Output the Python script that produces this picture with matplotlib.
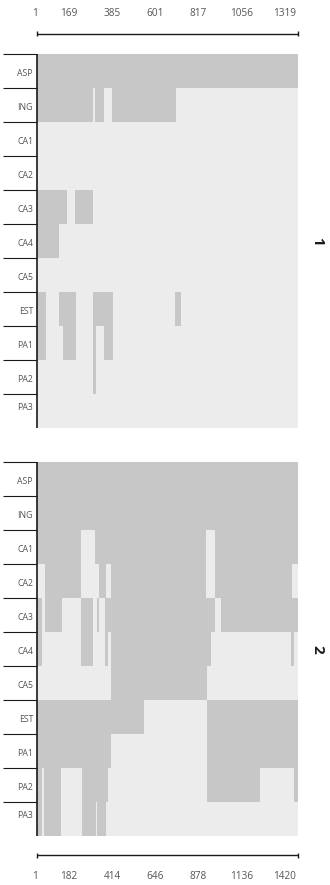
import matplotlib
matplotlib.use('Agg')
import matplotlib.pyplot as plt
from matplotlib.lines import Line2D

W, H, DPI = 330, 885, 100
GRAY = '#c7c7c7'
LIGHT = '#ececec'
INK = '#1a1a1a'
TXT = '#555555'

ROWS = ['ASP', 'ING', 'CA1', 'CA2', 'CA3', 'CA4', 'CA5', 'EST', 'PA1', 'PA2', 'PA3']

# panel 1
P1_LEN = 1319
P1_TICKS = ['1', '169', '385', '601', '817', '1056', '1319']
P1_SEGMENTS = [
    [(1, 1319)],                                          # ASP
    [(1, 286), (296, 341), (381, 704)],                   # ING
    [],                                                   # CA1
    [],                                                   # CA2
    [(1, 155), (195, 286)],                               # CA3
    [(1, 114)],                                           # CA4
    [],                                                   # CA5
    [(1, 49), (114, 200), (286, 387), (699, 729)],        # EST
    [(1, 49), (135, 200), (286, 301), (341, 387)],        # PA1
    [(286, 301)],                                         # PA2
    [],                                                   # PA3
]

# panel 2
P2_LEN = 1420
P2_TICKS = ['1', '182', '414', '646', '878', '1136', '1420']
P2_SEGMENTS = [
    [(1, 1420)],                                                          # ASP
    [(1, 1420)],                                                          # ING
    [(1, 242), (318, 921), (970, 1420)],                                  # CA1
    [(47, 242), (340, 378), (405, 921), (970, 1387)],                     # CA2
    [(1, 31), (47, 139), (242, 308), (329, 340), (373, 970), (1002, 1420)],  # CA3
    [(1, 31), (242, 308), (373, 389), (405, 948), (1382, 1398)],          # CA4
    [(405, 926)],                                                         # CA5
    [(1, 584), (926, 1420)],                                              # EST
    [(1, 405), (926, 1420)],                                              # PA1
    [(1, 31), (42, 134), (248, 389), (926, 1214), (1398, 1420)],          # PA2
    [(1, 31), (39, 134), (248, 324), (329, 378)],                         # PA3
]

plt.rcParams['font.family'] = ['Open Sans', 'DejaVu Sans']

X0, X1 = 36.5, 298.0
ROW_H = 34.0


def fx(x):
    return x / W


def fy(y):
    return 1 - y / H


def line(fig, xs, ys, lw=0.8, color=INK):
    fig.add_artist(Line2D([fx(x) for x in xs], [fy(y) for y in ys],
                          lw=lw, color=color, solid_capstyle='butt'))


def scale_bar(fig, y_line, y_text, ticks):
    line(fig, [X0, X1 - 0.5], [y_line, y_line], lw=1.0)
    for x in (X0, X1 - 0.5):
        line(fig, [x, x], [y_line - 2.5, y_line + 2.5], lw=1.0)
    # labels spread across the bar, first flush with the left end
    xs = [X0 - 1.5] + [69 + k * 43.2 for k in range(len(ticks) - 1)]
    for x, t in zip(xs, ticks):
        fig.text(fx(x), fy(y_text), t, ha='center', va='center',
                 fontsize=7.2, color=TXT)


def panel(fig, top, length, segments, name):
    n = len(ROWS)
    bottom = top + n * ROW_H
    ax = fig.add_axes([fx(X0), fy(bottom), fx(X1) - fx(X0), fy(top) - fy(bottom)])
    ax.set_facecolor(LIGHT)
    ax.set_xlim(1, length)
    ax.set_ylim(n, 0)
    for i, segs in enumerate(segments):
        if segs:
            ax.broken_barh([(a, b - a) for a, b in segs], (i, 1),
                           facecolors=GRAY, edgecolor='none')
    for s in ax.spines.values():
        s.set_visible(False)
    ax.set_xticks([])
    ax.set_yticks([])

    # row label column
    for i, lab in enumerate(ROWS):
        y = top + i * ROW_H
        line(fig, [3, X0], [y, y], lw=0.8)
        if i == n - 1:
            yc = y + 13.0
        else:
            yc = y + ROW_H / 2 + 2.5
        fig.text(fx(33), fy(yc), lab, ha='right', va='center',
                 fontsize=6.3, color=TXT)
    line(fig, [X0, X0], [top, bottom], lw=1.2)

    fig.text(fx(317), fy((top + bottom) / 2), name, rotation=-90,
             ha='center', va='center', fontsize=11, fontweight='bold',
             color=INK)


fig = plt.figure(figsize=(W / DPI, H / DPI), dpi=DPI)
fig.patch.set_facecolor('white')

scale_bar(fig, 33.7, 13.7, P1_TICKS)
panel(fig, 54.0, P1_LEN, P1_SEGMENTS, '1')
panel(fig, 462.0, P2_LEN, P2_SEGMENTS, '2')
scale_bar(fig, 855.0, 876.3, P2_TICKS)

fig.savefig('out.png', dpi=DPI)
